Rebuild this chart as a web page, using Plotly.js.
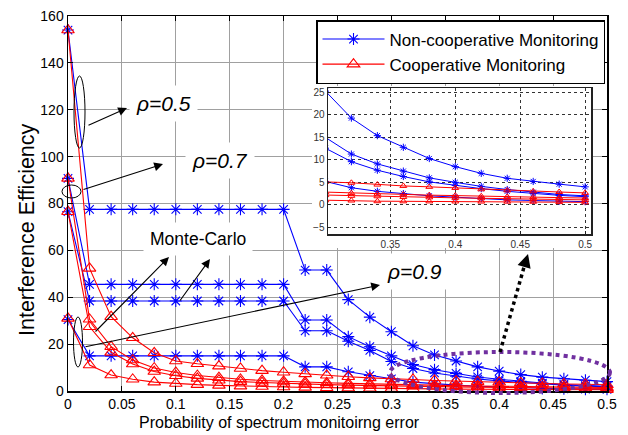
<!DOCTYPE html>
<html>
<head>
<meta charset="utf-8">
<script src="https://cdn.plot.ly/plotly-3.0.1.min.js"></script>
<style>html,body{margin:0;padding:0;background:#fff;}#plot{width:628px;height:435px;}</style>
</head>
<body>
<div id="plot"></div>
<script>
// ---- data ----
const errorProb = [0, 0.02, 0.04, 0.06, 0.08, 0.10, 0.12, 0.14, 0.16, 0.18, 0.20, 0.22, 0.24,
                   0.26, 0.28, 0.30, 0.32, 0.34, 0.36, 0.38, 0.40, 0.42, 0.44, 0.46, 0.48, 0.50];

const nonCoop1 = [154, 77.5, 77.5, 77.5, 77.5, 77.5, 77.5, 77.5, 77.5, 77.5, 77.5, 51.6, 51.6,
                  39.0, 31.5, 25.3, 19.3, 15.4, 12.8, 10.3, 8.5, 7.0, 5.9, 5.2, 4.6, 4.0];
const nonCoop2 = [90.7, 45.5, 45.5, 45.5, 45.5, 45.5, 45.5, 45.5, 45.5, 45.5, 45.5, 30.3, 30.3,
                  23.2, 18.9, 15.0, 11.3, 9.1, 7.5, 6.0, 5.0, 4.1, 3.4, 2.8, 2.3, 2.0];
const nonCoop3 = [76.5, 38.4, 38.4, 38.4, 38.4, 38.4, 38.4, 38.4, 38.4, 38.4, 38.4, 25.7, 25.7,
                  21.2, 17.3, 12.6, 9.6, 7.7, 6.3, 5.1, 4.3, 3.6, 3.0, 2.5, 2.1, 1.8];
const nonCoop4 = [30.5, 15.0, 15.0, 15.0, 15.0, 15.0, 15.0, 15.0, 15.0, 15.0, 15.0, 10.3, 10.3,
                  8.2, 6.6, 5.2, 3.8, 3.0, 2.5, 2.0, 1.7, 1.35, 1.1, 0.95, 0.8, 0.7];

const coop1 = [154, 52.3, 31.7, 22.7, 16.3, 12.8, 11.6, 10.6, 9.6, 8.7, 8.0, 7.3, 6.7,
               6.1, 5.6, 5.1, 4.9, 4.5, 4.2, 4.0, 3.75, 3.45, 3.2, 3.0, 2.85, 2.65];
const coop2 = [90.7, 30.6, 18.9, 13.2, 9.8, 7.9, 6.6, 5.7, 5.0, 4.5, 4.1, 3.8, 3.5,
               3.25, 3.0, 2.8, 2.6, 2.45, 2.3, 2.15, 2.05, 1.9, 1.8, 1.7, 1.6, 1.5];
const coop3 = [76.5, 27.4, 16.5, 11.5, 8.3, 6.5, 5.4, 4.6, 4.0, 3.6, 3.2, 2.95, 2.7,
               2.5, 2.3, 2.15, 2.0, 1.9, 1.75, 1.65, 1.55, 1.45, 1.35, 1.25, 1.18, 1.1];
const coop4 = [31, 11.1, 6.8, 5.0, 3.8, 3.2, 2.7, 2.4, 2.1, 1.9, 1.7, 1.55, 1.4,
               1.25, 1.1, 1.0, 0.95, 0.8, 0.78, 0.76, 0.74, 0.72, 0.7, 0.68, 0.6, 0.55];

const seriesNames = ['Non-cooperative Monitoring', 'Cooperative Monitoring'];
const xTitle = 'Probability of spectrum monitoirng error';
const yTitle = 'Interference Efficiency';
const rhoLabels = ['ρ=0.5', 'ρ=0.7', 'ρ=0.9'];
const mcLabel = 'Monte-Carlo';

// ---- figure ----
const FONT = '"Liberation Sans", Arial, sans-serif';
const W = 628, H = 435, ML = 68, MR = 21, MT = 16, MB = 44;
const PW = W - ML - MR, PH = H - MT - MB;
const fx = px => (px - ML) / PW;
const fy = py => (H - MB - py) / PH;

const BLUE = '#0000ff', RED = '#ff0000';
const blueSets = [nonCoop1, nonCoop2, nonCoop3, nonCoop4];
const redSets = [coop1, coop2, coop3, coop4];

const traces = [];
// dummy white panel behind inset (hides main grid)
traces.push({x: [], y: [], xaxis: 'x2', yaxis: 'y2', showlegend: false, hoverinfo: 'skip', type: 'scatter'});

function addSet(sets, color, symbol, name, msMain) {
  sets.forEach((ys, i) => {
    traces.push({
      type: 'scatter', mode: 'lines+markers', x: errorProb, y: ys,
      xaxis: 'x', yaxis: 'y', name: name, legendgroup: name, showlegend: i === 0,
      cliponaxis: false,
      line: {color: color, width: 1.1},
      marker: {symbol: symbol, size: msMain, color: color, line: {color: color, width: 1.1}}
    });
  });
}
function addInset(sets, color, symbol, name, ms) {
  sets.forEach((ys) => {
    traces.push({
      type: 'scatter', mode: 'lines+markers', x: errorProb, y: ys,
      xaxis: 'x3', yaxis: 'y3', name: name, showlegend: false, cliponaxis: true,
      line: {color: color, width: 1},
      marker: {symbol: symbol, size: ms, color: color, line: {color: color, width: 1}}
    });
  });
}
addSet(blueSets, BLUE, 'asterisk-open', seriesNames[0], 10);
addSet(redSets, RED, 'triangle-up-open', seriesNames[1], 11);
addInset(blueSets, BLUE, 'asterisk-open', seriesNames[0], 6);
addInset(redSets, RED, 'triangle-up-open', seriesNames[1], 6);

const tickFont = {family: FONT, size: 14, color: '#000'};
const layout = {
  width: W, height: H,
  margin: {l: ML, r: MR, t: MT, b: MB},
  paper_bgcolor: '#fff', plot_bgcolor: '#fff',
  font: {family: FONT, color: '#000'},
  showlegend: true,
  xaxis: {
    domain: [0, 1], range: [0, 0.5], tick0: 0, dtick: 0.05,
    showgrid: true, gridcolor: '#a0a0a0', gridwidth: 1, zeroline: false,
    showline: true, linecolor: '#000', linewidth: 1.5, mirror: 'ticks',
    ticks: 'inside', ticklen: 5, tickcolor: '#000', tickfont: tickFont
  },
  yaxis: {
    domain: [0, 1], range: [0, 160], tick0: 0, dtick: 20,
    showgrid: true, gridcolor: '#a0a0a0', gridwidth: 1, zeroline: false,
    showline: true, linecolor: '#000', linewidth: 1.5, mirror: 'ticks',
    ticks: 'inside', ticklen: 5, tickcolor: '#000', tickfont: tickFont
  },
  xaxis2: {domain: [fx(312), fx(592)], anchor: 'y2', range: [0, 1], showgrid: false, zeroline: false,
           showticklabels: false, ticks: '', showline: false, fixedrange: true},
  yaxis2: {domain: [fy(248), fy(86)], anchor: 'x2', range: [0, 1], showgrid: false, zeroline: false,
           showticklabels: false, ticks: '', showline: false, fixedrange: true},
  xaxis3: {
    domain: [fx(328), fx(591)], anchor: 'y3', range: [0.302, 0.5045], tick0: 0, dtick: 0.05,
    showgrid: true, gridcolor: '#333', griddash: 'dot', gridwidth: 1, zeroline: false,
    showline: true, linecolor: '#222', linewidth: 1.5, mirror: true,
    ticks: 'inside', ticklen: 3, tickcolor: '#222', tickfont: {family: FONT, size: 10, color: '#333'}
  },
  yaxis3: {
    domain: [fy(234), fy(88)], anchor: 'x3', range: [-6.5, 26], tick0: 0, dtick: 5,
    showgrid: true, gridcolor: '#333', griddash: 'dot', gridwidth: 1, zeroline: false,
    showline: true, linecolor: '#222', linewidth: 1.5, mirror: true,
    ticks: 'inside', ticklen: 3, tickcolor: '#222', tickfont: {family: FONT, size: 10, color: '#333'}
  },
  legend: {
    x: fx(605), xanchor: 'right', y: fy(20), yanchor: 'top',
    bgcolor: '#fff', bordercolor: '#000', borderwidth: 1.5,
    font: {family: FONT, size: 17, color: '#000'}, itemwidth: 62, tracegroupgap: 0
  },
  shapes: [],
  annotations: []
};

function ellipse(x0, x1, y0, y1, color, width, dash) {
  layout.shapes.push({type: 'circle', xref: 'paper', yref: 'paper',
    x0: fx(x0), x1: fx(x1), y0: fy(y1), y1: fy(y0),
    line: {color: color, width: width, dash: dash || 'solid'}});
}
ellipse(74, 85, 76, 148, '#000', 1);
ellipse(62, 81, 185, 198, '#000', 1);
ellipse(73.5, 82.5, 317, 367, '#000', 1);
ellipse(390, 610, 352, 393, '#7030a0', 4, 'dot');
// dotted arrow shaft
layout.shapes.push({type: 'line', xref: 'paper', yref: 'paper',
  x0: fx(500), y0: fy(352), x1: fx(526), y1: fy(260), line: {color: '#000', width: 3.5, dash: 'dot'}});

function label(text, cx, cy, size, italic) {
  layout.annotations.push({xref: 'paper', yref: 'paper', x: fx(cx), y: fy(cy),
    xanchor: 'center', yanchor: 'middle', showarrow: false,
    text: italic ? '<i>' + text + '</i>' : text,
    font: {family: FONT, size: size, color: '#000'}, bgcolor: '#fff', borderpad: 6});
}
label(rhoLabels[0], 163, 103, 21, true);
label(rhoLabels[1], 220, 160, 21, true);
label(rhoLabels[2], 414, 271, 21, true);
label(mcLabel, 198, 239, 17.5, false);

function arrow(tx, ty, hx, hy, width, size) {
  layout.annotations.push({xref: 'paper', yref: 'paper', x: fx(hx), y: fy(hy),
    ax: tx - hx, ay: ty - hy, axref: 'pixel', ayref: 'pixel', text: '', showarrow: true,
    arrowhead: 2, arrowsize: size || 1.6, arrowwidth: width || 1.1, arrowcolor: '#000'});
}
arrow(87, 126, 127, 108);
arrow(82, 190, 163, 164);
arrow(94, 333, 169, 257);
arrow(179, 302, 210, 259);
arrow(84, 347, 380, 285);
arrow(525, 264, 528, 254, 3, 0.9);

// axis titles
layout.annotations.push({xref: 'paper', yref: 'paper', x: fx(279), y: fy(422), xanchor: 'center', yanchor: 'middle',
  showarrow: false, text: xTitle, font: {family: FONT, size: 16, color: '#000'}});
layout.annotations.push({xref: 'paper', yref: 'paper', x: fx(27), y: fy(230), xanchor: 'center', yanchor: 'middle',
  showarrow: false, textangle: -90, text: yTitle, font: {family: FONT, size: 21.5, color: '#000'}});

Plotly.newPlot('plot', traces, layout, {staticPlot: true, displayModeBar: false});
</script>
</body>
</html>
